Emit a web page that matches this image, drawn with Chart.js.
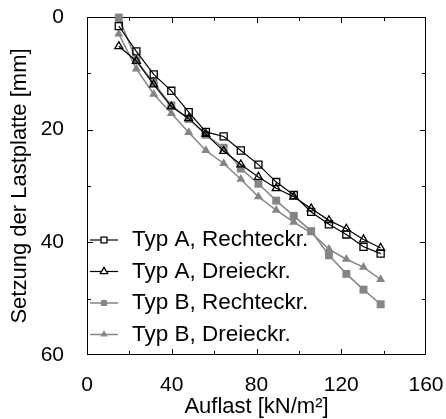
<!DOCTYPE html>
<html>
<head>
<meta charset="utf-8">
<script src="https://cdn.jsdelivr.net/npm/chart.js@4.4.0/dist/chart.umd.min.js"></script>
<style>
html, body { margin: 0; padding: 0; background: #fff; }
</style>
</head>
<body>
<canvas id="setzung" width="446" height="419"></canvas>
<script>
// Auflast [kN/m2] (x) and Setzung [mm] (y)
var auflast = [15, 23.3, 31.5, 39.8, 48, 56.1, 64.5, 72.6, 80.9, 89.3, 97.6, 105.8, 114.2, 122.4, 130.5, 138.6];
var typARechteck = [1.6, 6.1, 10.2, 13.1, 16.9, 20.4, 21.2, 23.7, 26.2, 29.3, 31.6, 34.6, 36.8, 38.6, 40.8, 42.0];
var typADreieck  = [5.2, 7.8, 12.0, 15.9, 18.0, 20.8, 23.8, 26.2, 28.4, 30.4, 31.9, 34.0, 36.1, 37.6, 39.5, 41.0];
var typBRechteck = [0.1, 7.7, 11.7, 15.7, 18.1, 20.9, 23.2, 26.9, 29.6, 32.6, 35.3, 38.0, 42.3, 45.6, 48.4, 51.0];
var typBDreieck  = [3.0, 9.2, 13.7, 17.1, 20.5, 23.7, 26.0, 28.8, 31.9, 34.3, 36.4, 38.3, 41.2, 43.0, 44.4, 46.6];

var xTicks = [0, 40, 80, 120, 160];
var yTicks = [0, 20, 40, 60];

var black = '#000000';
var grey = '#858585';

function pts(ys) {
  return ys.map(function(v, i) { return {x: auflast[i], y: v}; });
}

function marker(ctx, style, r, x, y, fill, stroke) {
  ctx.beginPath();
  if (style == 'rect') {
    var s = Math.SQRT1_2 * r;
    ctx.rect(x - s, y - s, 2 * s, 2 * s);
  } else {
    ctx.moveTo(x, y - r);
    ctx.lineTo(x + r * Math.sin(2 * Math.PI / 3), y + r / 2);
    ctx.lineTo(x - r * Math.sin(2 * Math.PI / 3), y + r / 2);
    ctx.closePath();
  }
  if (fill) { ctx.fillStyle = fill; ctx.fill(); }
  if (stroke) { ctx.strokeStyle = stroke; ctx.lineWidth = 1.3; ctx.stroke(); }
}

//frame with inward ticks on all four sides
var frameTicks = {
  id: 'frameTicks',
  beforeDatasetsDraw: function(chart) {
    var ctx = chart.ctx, a = chart.chartArea;
    var sx = chart.scales.x, sy = chart.scales.y;
    ctx.save();
    ctx.strokeStyle = black;
    ctx.lineWidth = 1;
    ctx.strokeRect(a.left + 0.5, a.top + 0.5, a.right - a.left - 1, a.bottom - a.top - 1);
    ctx.beginPath();
    for (var v = 20; v < 160; v += 20) {
      var px = Math.round(sx.getPixelForValue(v)) + 0.5;
      var len = v % 40 == 0 ? 6 : 4;
      ctx.moveTo(px, a.bottom); ctx.lineTo(px, a.bottom - len);
      ctx.moveTo(px, a.top); ctx.lineTo(px, a.top + len);
    }
    for (var w = 10; w < 60; w += 10) {
      var py = Math.round(sy.getPixelForValue(w)) + 0.5;
      var l2 = w % 20 == 0 ? 6 : 4;
      ctx.moveTo(a.left, py); ctx.lineTo(a.left + l2, py);
      ctx.moveTo(a.right, py); ctx.lineTo(a.right - l2, py);
    }
    ctx.stroke();
    ctx.restore();
  }
};

//legend drawn inside the plot, bottom left
var insideLegend = {
  id: 'insideLegend',
  afterDraw: function(chart) {
    var ctx = chart.ctx, a = chart.chartArea;
    ctx.save();
    ctx.font = '22.5px "Liberation Sans", Arial, sans-serif';
    ctx.textBaseline = 'middle';
    chart.data.datasets.forEach(function(ds, i) {
      var y = a.top + 223 + i * 31.5;
      var x0 = a.left + 3;
      ctx.beginPath();
      ctx.strokeStyle = ds.borderColor;
      ctx.lineWidth = ds.borderWidth;
      ctx.moveTo(x0, y); ctx.lineTo(x0 + 28, y);
      ctx.stroke();
      var filled = ds.pointBackgroundColor != 'rgba(0,0,0,0)';
      marker(ctx, ds.pointStyle, 4.2, x0 + 14, y, filled ? ds.pointBackgroundColor : '#fff', filled ? null : ds.pointBorderColor);
      ctx.fillStyle = black;
      ctx.fillText(ds.label, a.left + 45, y);
    });
    ctx.restore();
  }
};

var tickFont = { family: '"Liberation Sans", Arial, sans-serif', size: 21 };
var titleFont = { family: '"Liberation Sans", Arial, sans-serif', size: 22, lineHeight: 1 };

new Chart("setzung", {
  type: 'line',
  data: {
    datasets: [
      {
        label: 'Typ A, Rechteckr.',
        data: pts(typARechteck),
        borderColor: black,
        borderWidth: 1.2,
        pointStyle: 'rect',
        pointRadius: 5,
        pointBorderWidth: 1.3,
        pointBorderColor: black,
        pointBackgroundColor: 'rgba(0,0,0,0)'
      },
      {
        label: 'Typ A, Dreieckr.',
        data: pts(typADreieck),
        borderColor: black,
        borderWidth: 1.2,
        pointStyle: 'triangle',
        pointRadius: 4.6,
        pointBorderWidth: 1.3,
        pointBorderColor: black,
        pointBackgroundColor: 'rgba(0,0,0,0)'
      },
      {
        label: 'Typ B, Rechteckr.',
        data: pts(typBRechteck),
        borderColor: grey,
        borderWidth: 1.5,
        pointStyle: 'rect',
        pointRadius: 5.6,
        pointBorderWidth: 0,
        pointBorderColor: grey,
        pointBackgroundColor: grey,
        clip: false
      },
      {
        label: 'Typ B, Dreieckr.',
        data: pts(typBDreieck),
        borderColor: grey,
        borderWidth: 1.5,
        pointStyle: 'triangle',
        pointRadius: 5.2,
        pointBorderWidth: 0,
        pointBorderColor: grey,
        pointBackgroundColor: grey
      }
    ]
  },
  options: {
    responsive: false,
    animation: false,
    devicePixelRatio: 1,
    layout: { padding: { left: 0, top: 17, right: 20, bottom: 0 } },
    plugins: {
      legend: { display: false },
      tooltip: { enabled: false }
    },
    scales: {
      x: {
        type: 'linear',
        min: 0, max: 160,
        afterBuildTicks: function(s) { s.ticks = xTicks.map(function(v) { return {value: v}; }); },
        afterFit: function(s) { s.height = 64; s.paddingLeft = 0; s.paddingRight = 0; },
        grid: { display: false },
        border: { display: false },
        ticks: { font: tickFont, color: black, padding: 10, maxRotation: 0 },
        title: { display: true, text: 'Auflast [kN/m²]', font: titleFont, color: black, padding: { top: 0, bottom: 1 } }
      },
      y: {
        type: 'linear',
        reverse: true,
        min: 0, max: 60,
        afterBuildTicks: function(s) { s.ticks = yTicks.map(function(v) { return {value: v}; }); },
        afterFit: function(s) { s.width = 87; s.paddingTop = 0; s.paddingBottom = 0; },
        grid: { display: false },
        border: { display: false },
        ticks: { font: tickFont, color: black, padding: 15 },
        title: { display: true, text: 'Setzung der Lastplatte [mm]', font: titleFont, color: black, padding: { top: 9, bottom: 0 } }
      }
    }
  },
  plugins: [frameTicks, insideLegend]
});
</script>
</body>
</html>
